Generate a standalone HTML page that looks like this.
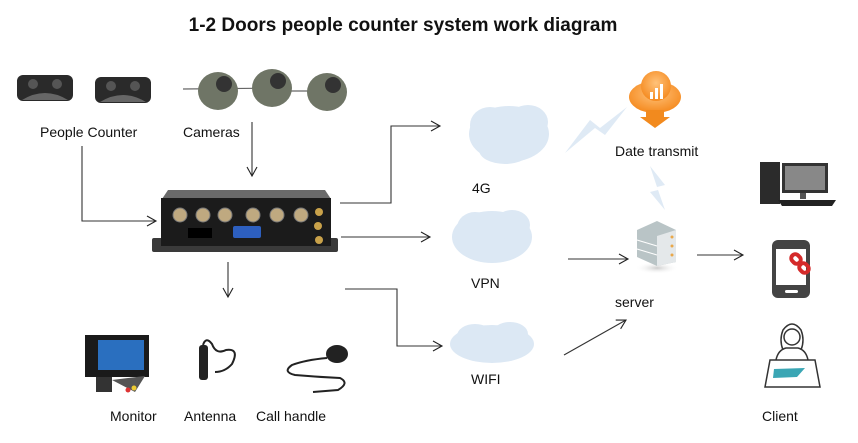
<!DOCTYPE html>
<html><head><meta charset="utf-8"><style>
html,body{margin:0;padding:0;background:#fff;}
svg{display:block;font-family:"Liberation Sans",Arial,sans-serif;}
</style></head><body>
<svg width="858" height="443" viewBox="0 0 858 443" xmlns="http://www.w3.org/2000/svg">
<defs>
<marker id="a" markerWidth="12" markerHeight="12" refX="10" refY="6" orient="auto" markerUnits="userSpaceOnUse">
<path d="M1,1 L10,6 L1,11" fill="none" stroke="#222" stroke-width="1.1"/></marker>
<radialGradient id="og" cx="50%" cy="40%" r="60%"><stop offset="0" stop-color="#ffc27a"/><stop offset="1" stop-color="#f58a1f"/></radialGradient>
<radialGradient id="sh" cx="50%" cy="50%" r="50%"><stop offset="0" stop-color="#ccc"/><stop offset="1" stop-color="#fff" stop-opacity="0"/></radialGradient>
</defs>
<text x="403" y="31" text-anchor="middle" font-size="19" font-weight="bold" fill="#111">1-2 Doors people counter system work diagram</text>

<!-- people counters -->
<g>
<rect x="17" y="75" width="56" height="26" rx="6" fill="#2a2a2a"/>
<path d="M22,100 Q45,86 68,100 Z" fill="#666"/>
<circle cx="33" cy="84" r="5" fill="#555"/><circle cx="57" cy="84" r="5" fill="#555"/>
<rect x="95" y="77" width="56" height="26" rx="6" fill="#2a2a2a"/>
<path d="M100,102 Q123,88 146,102 Z" fill="#666"/>
<circle cx="111" cy="86" r="5" fill="#555"/><circle cx="135" cy="86" r="5" fill="#555"/>
</g>
<!-- cameras -->
<g fill="#6f7566">
<line x1="183" y1="89" x2="290" y2="88" stroke="#666" stroke-width="1.2"/>
<line x1="290" y1="91" x2="310" y2="91" stroke="#666" stroke-width="1.2"/>
<ellipse cx="218" cy="91" rx="20" ry="19"/><circle cx="224" cy="84" r="8" fill="#333"/>
<ellipse cx="272" cy="88" rx="20" ry="19"/><circle cx="278" cy="81" r="8" fill="#333"/>
<ellipse cx="327" cy="92" rx="20" ry="19"/><circle cx="333" cy="85" r="8" fill="#333"/>
</g>
<text x="40" y="137" font-size="14" fill="#111">People Counter</text>
<text x="183" y="137" font-size="14" fill="#111">Cameras</text>

<!-- connectors -->
<g stroke="#333" stroke-width="1.1" fill="none">
<line x1="252" y1="122" x2="252" y2="176" marker-end="url(#a)"/>
<polyline points="82,146 82,221 156,221" marker-end="url(#a)"/>
<polyline points="340,203 391,203 391,126 440,126" marker-end="url(#a)"/>
<line x1="341" y1="237" x2="430" y2="237" marker-end="url(#a)"/>
<polyline points="345,289 397,289 397,346 442,346" marker-end="url(#a)"/>
<line x1="228" y1="262" x2="228" y2="297" marker-end="url(#a)"/>
<line x1="568" y1="259" x2="628" y2="259" marker-end="url(#a)"/>
<line x1="564" y1="355" x2="626" y2="320" marker-end="url(#a)"/>
<line x1="697" y1="255" x2="743" y2="255" marker-end="url(#a)"/>
</g>

<!-- DVR -->
<g>
<path d="M162,199 L168,190 L325,190 L331,199 Z" fill="#6a6a6a"/>
<rect x="152" y="238" width="186" height="14" rx="2" fill="#3a3a3a"/>
<rect x="161" y="198" width="170" height="48" fill="#1b1b1b"/>
<g fill="#bfa980" stroke="#777">
<circle cx="180" cy="215" r="7"/><circle cx="203" cy="215" r="7"/><circle cx="225" cy="215" r="7"/><circle cx="253" cy="215" r="7"/><circle cx="277" cy="215" r="7"/><circle cx="301" cy="215" r="7"/>
</g>
<rect x="233" y="226" width="28" height="12" rx="2" fill="#2d5fbf"/>
<rect x="188" y="228" width="24" height="10" fill="#000"/>
<g fill="#c9a24a"><circle cx="319" cy="212" r="4"/><circle cx="318" cy="226" r="4"/><circle cx="319" cy="240" r="4"/></g>
</g>

<!-- clouds -->
<g fill="#dce8f4">
<ellipse cx="509" cy="134" rx="40" ry="28"/><ellipse cx="490" cy="125" rx="20" ry="18"/><ellipse cx="528" cy="122" rx="20" ry="17"/><ellipse cx="505" cy="150" rx="26" ry="14"/>
<ellipse cx="492" cy="237" rx="40" ry="26"/><ellipse cx="475" cy="228" rx="18" ry="16"/><ellipse cx="512" cy="225" rx="18" ry="15"/>
<ellipse cx="492" cy="344" rx="42" ry="19"/><ellipse cx="475" cy="336" rx="18" ry="12"/><ellipse cx="510" cy="334" rx="18" ry="12"/>
<path d="M565,153 L590,120 L600,128 L627,107 L605,135 L595,128 Z" opacity="0.9"/>
<path d="M650,166 L665,185 L657,187 L665,210 L650,192 L658,190 Z" opacity="0.9"/>
</g>
<text x="472" y="193" font-size="14" fill="#111">4G</text>
<text x="471" y="288" font-size="14" fill="#111">VPN</text>
<text x="471" y="384" font-size="14" fill="#111">WIFI</text>

<!-- date transmit -->
<g>
<ellipse cx="655" cy="97" rx="26" ry="16" fill="url(#og)"/>
<circle cx="656" cy="86" r="15" fill="url(#og)"/>
<path d="M646,110 L664,110 L664,117 L670,117 L655,128 L640,117 L646,117 Z" fill="#f28a1e"/>
<g fill="#fff"><rect x="650" y="92" width="3" height="7"/><rect x="655" y="88" width="3" height="11"/><rect x="660" y="84" width="3" height="15"/></g>
</g>
<text x="615" y="156" font-size="14" fill="#111">Date transmit</text>

<!-- server -->
<ellipse cx="657" cy="268" rx="22" ry="6" fill="url(#sh)"/>
<g>
<path d="M637,230 L657,221 L676,230 L676,262 L657,266 L637,257 Z" fill="#b9c4c6"/>
<path d="M657,236 L676,230 L676,262 L657,266 Z" fill="#e4e8ea"/>
<g stroke="#fff" stroke-width="1"><line x1="637" y1="240" x2="657" y2="246"/><line x1="637" y1="249" x2="657" y2="255"/></g>
<g fill="#e9a84a"><circle cx="672" cy="237" r="1.5"/><circle cx="672" cy="246" r="1.5"/><circle cx="672" cy="255" r="1.5"/></g>
</g>
<text x="615" y="307" font-size="14" fill="#111">server</text>

<!-- PC -->
<g>
<rect x="760" y="162" width="20" height="42" fill="#2b2b2b"/>
<rect x="782" y="163" width="46" height="30" fill="#333"/>
<rect x="785" y="166" width="40" height="24" fill="#888"/>
<rect x="800" y="193" width="6" height="6" fill="#555"/>
<path d="M778,200 L836,200 L832,206 L782,206 Z" fill="#222"/>
</g>
<!-- phone -->
<g>
<rect x="772" y="240" width="38" height="58" rx="6" fill="#444"/>
<rect x="776" y="249" width="30" height="36" fill="#fff"/>
<rect x="785" y="290" width="13" height="3" rx="1.5" fill="#fff"/>
<g fill="none" stroke="#d42a2a" stroke-width="4"><rect x="791" y="255" width="10" height="8" rx="4" transform="rotate(45 796 259)"/><rect x="799" y="264" width="10" height="8" rx="4" transform="rotate(45 804 268)"/></g>
</g>
<!-- person -->
<g fill="none" stroke="#333" stroke-width="1.5">
<path d="M783,350 Q779,340 783,330 Q792,318 801,330 Q805,340 801,350"/>
<circle cx="792" cy="337" r="8"/>
<path d="M776,360 Q778,350 786,348 L798,348 Q806,350 808,360"/>
<path d="M770,360 L815,360 L820,387 L765,387 Z"/>
</g>
<path d="M774,369 L805,368 L797,377 L773,378 Z" fill="#3aa6b4"/>
<text x="762" y="421" font-size="14" fill="#111">Client</text>

<!-- bottom devices -->
<g>
<rect x="85" y="335" width="64" height="42" fill="#1a1a1a"/>
<rect x="98" y="340" width="46" height="30" fill="#2a6fbf"/>
<rect x="96" y="377" width="16" height="15" fill="#333"/>
<path d="M112,380 L145,376 L135,392 Z" fill="#555"/>
<circle cx="128" cy="390" r="2.5" fill="#d33"/><circle cx="134" cy="388" r="2.5" fill="#ec3"/>
</g>
<g>
<rect x="199" y="345" width="9" height="35" rx="3" fill="#222"/>
<path d="M203,345 Q206,336 212,344 Q216,355 226,350 Q240,348 232,364 Q225,372 215,372" fill="none" stroke="#222" stroke-width="2"/>
</g>
<g fill="none" stroke="#222" stroke-width="2">
<ellipse cx="337" cy="354" rx="10" ry="8" fill="#222"/>
<path d="M327,358 Q305,360 292,365 Q282,372 295,375 Q318,377 340,378 Q350,383 338,390 L313,392"/>
</g>
<text x="110" y="421" font-size="14" fill="#111">Monitor</text>
<text x="184" y="421" font-size="14" fill="#111">Antenna</text>
<text x="256" y="421" font-size="14" fill="#111">Call handle</text>
</svg>
</body></html>
